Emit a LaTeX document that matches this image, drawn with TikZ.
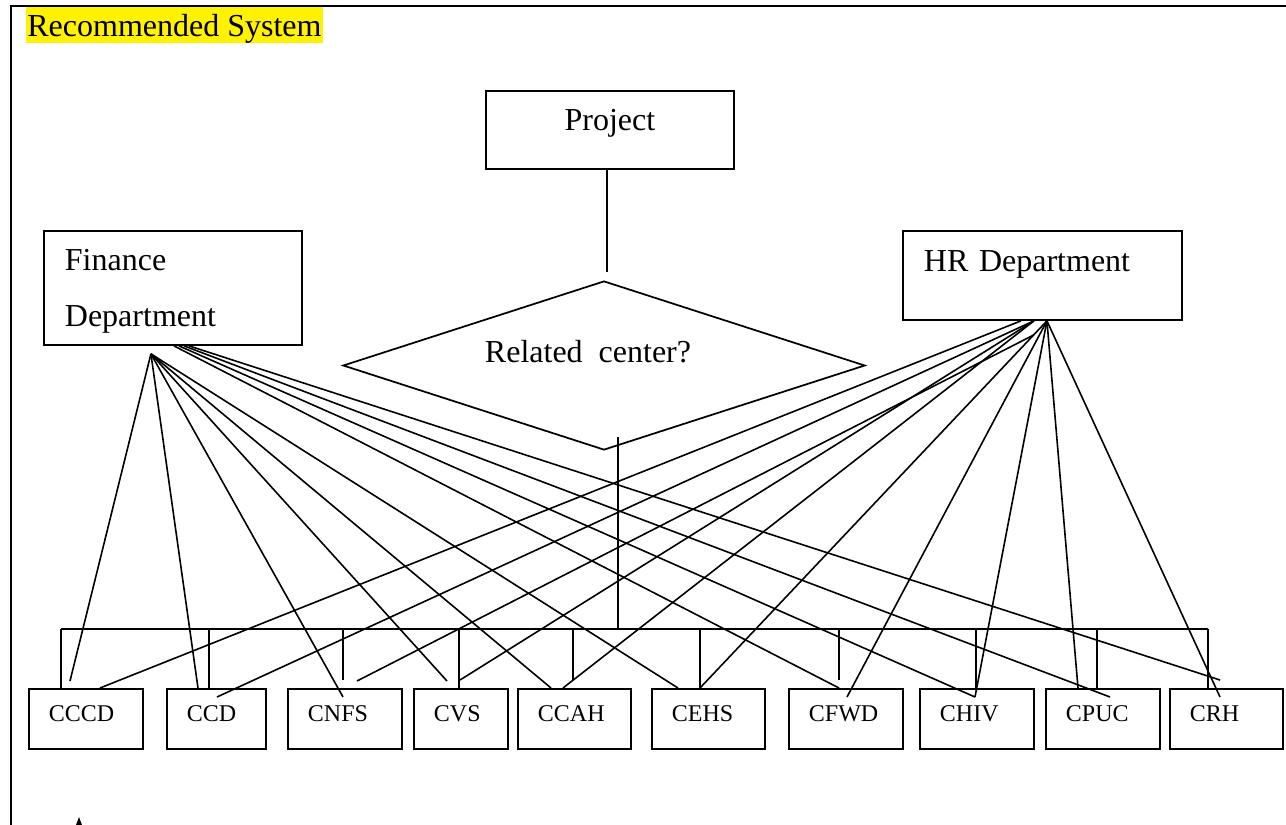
\documentclass[tikz,border=0pt]{standalone}
\usepackage{fontspec}
\setmainfont{Liberation Serif}
\usetikzlibrary{shapes.geometric}
\begin{document}
\begin{tikzpicture}[x=0.375pt, y=-0.375pt, line width=0.6pt,
  every node/.style={font=\fontsize{12}{21}\selectfont},
  bigbox/.style={draw, line width=0.7pt, anchor=north west, inner xsep=7.875pt, inner ysep=0pt, align=left},
  cbox/.style={draw, line width=0.7pt, anchor=north west, inner xsep=7.5pt, inner ysep=0pt,
    text height=12.375pt, text depth=10.125pt, align=left, font=\fontsize{9}{10}\selectfont}]
  \useasboundingbox (0,0) rectangle (1286,825);
  % Frame
  \draw[line width=0.8pt] (11,825) -- (11,6) -- (1286,6);
  % Title
  \node[fill=yellow, anchor=base west, inner xsep=0.4pt, inner ysep=0pt, text height=10.875pt, text depth=2.625pt] (title) at (25.5,36) {Recommended System};
  % Top boxes
  \node[draw, line width=0.7pt, anchor=north west, inner sep=0pt, minimum width=93pt, text height=15pt, text depth=14.25pt] (proj) at (485,90) {Project};
  \node[bigbox, text width=81pt, text height=15pt, text depth=27.75pt] (fin) at (43,230) {Finance\\Department};
  \node[bigbox, text width=88.875pt, text height=15.375pt, text depth=18pt] (hr) at (902,230) {HR Department};
  % Decision
  \node[diamond, draw, line width=0.65pt, inner sep=0pt, aspect=3.09, minimum width=195.75pt, minimum height=63.375pt,
    text height=7pt, text depth=9.3pt] (rel) at (604,365.5) {Related\ \ center?\kern12pt};
  \coordinate (pq) at (607,272);
  \draw (proj.south -| pq) -- (pq);
  % Centers
  \foreach \n/\t/\l/\r in {cccd/CCCD/28/142, ccd/CCD/166/265, cnfs/CNFS/287/401, cvs/CVS/413/507,
      ccah/CCAH/517/630, cehs/CEHS/651/764, cfwd/CFWD/788/902, chiv/CHIV/919/1033,
      cpuc/CPUC/1045/1159, crh/CRH/1169/1282}{
    \pgfmathsetmacro\tw{(\r-\l-40)*0.375}
    \node[cbox, text width=\tw pt] (\n) at (\l,688) {\t};
  }
  % Bar and drops
  \coordinate (bar) at (61,629);
  \coordinate (barr) at (1208,629);
  \coordinate (rq) at (618,437);
  \draw (bar) -- (barr);
  \draw (rq) -- (rq |- bar);
  \foreach \b/\dx/\g in {cccd/33/0, ccd/43/0, cnfs/56/8, cvs/46/0, ccah/56/8,
      cehs/49/0, cfwd/51/8, chiv/57/0, cpuc/52/0, crh/39/0}
    \draw ([shift={(\dx,-\g)}]\b.north west) -- ++(0,\g-59);
  % Finance links
  \coordinate (fa) at ([shift={(-22,8)}]fin.south);
  \coordinate (f1) at ([shift={(1,0)}]fin.south);
  \coordinate (f2) at ([shift={(6,0)}]fin.south);
  \coordinate (f3) at ([shift={(11,0)}]fin.south);
  \coordinate (f4) at ([shift={(16,0)}]fin.south);
  \foreach \s/\b/\dx/\dy in {fa/cccd/42/-7, fa/ccd/32/0, fa/cnfs/56/9, fa/cvs/34/-7, fa/ccah/34/0,
      fa/cehs/27/0, f1/cfwd/51/0, f2/chiv/56/9, f3/cpuc/65/9, f4/crh/51/-8}
    \draw (\s) -- ([shift={(\dx,\dy)}]\b.north west);
  % HR links
  \coordinate (ha) at ([shift={(4.5,0)}]hr.south);
  \coordinate (hb) at ([shift={(-8.5,0)}]hr.south);
  \coordinate (hc) at ([shift={(-21.5,0)}]hr.south);
  \coordinate (hd) at ([shift={(-8.5,14)}]hr.south);
  \foreach \s/\b/\dx/\dy in {hc/cccd/72/0, hb/ccd/51/9, hd/cnfs/70/-7, hb/cvs/47/-8, hb/ccah/46/0,
      ha/cehs/49/0, ha/cfwd/59/9, ha/chiv/56/9, ha/cpuc/33/0, ha/crh/51/9}
    \draw (\s) -- ([shift={(\dx,\dy)}]\b.north west);
  % Cut-off mark at the bottom
  \fill (76,825) -- (79,817) -- (82,825) -- cycle;
\end{tikzpicture}
\end{document}
